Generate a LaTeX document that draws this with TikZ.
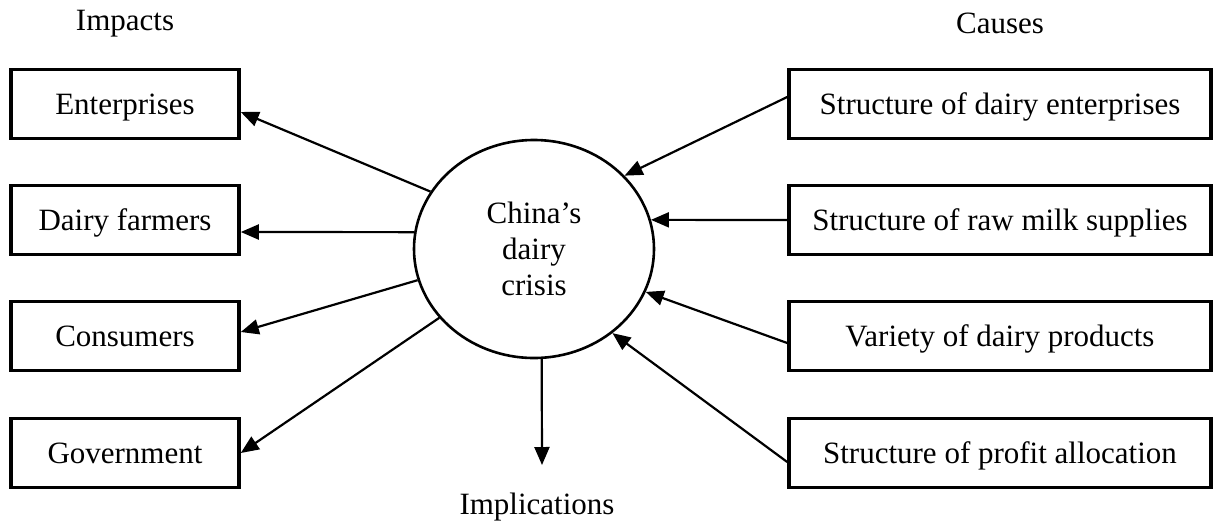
\documentclass[tikz,border=0pt]{standalone}
\usepackage{fontspec}
\setmainfont{Liberation Serif}
\usetikzlibrary{arrows.meta,shapes.geometric}

\begin{document}
\begin{tikzpicture}[x=0.5pt,y=-0.5pt,
  every node/.style={font=\fontsize{15.5}{18}\selectfont},
  box/.style={draw,line width=1.8pt,minimum width=114pt,minimum height=34.5pt,inner sep=0pt,text height=11.5pt,text depth=1pt},
  hub/.style={draw,ellipse,line width=1.3pt,minimum width=120pt,minimum height=109pt,inner sep=0pt,align=center},
  arr/.style={line width=1.1pt,-{Triangle[length=9pt,width=7.5pt]}}]

\useasboundingbox (0,0) rectangle (1216,521);

%% headings
\node (impacts) at (125,24) {Impacts};
\node (causes) at (1000,23) {Causes};
\node (impl) at (537,507) {Implications};

%% impacts
\node[box] (ent)  at (125,104) {Enterprises};
\node[box] (farm) at (125,220) {Dairy farmers};
\node[box] (cons) at (125,336) {Consumers};
\node[box] (gov)  at (125,453) {Government};

%% causes
\node[box,minimum width=211pt] (firms)  at (1000,104) {Structure of dairy enterprises};
\node[box,minimum width=211pt] (milk)   at (1000,220) {Structure of raw milk supplies};
\node[box,minimum width=211pt] (prods)  at (1000,336) {Variety of dairy products};
\node[box,minimum width=211pt] (profit) at (1000,453) {Structure of profit allocation};

%% centre
\node[hub] (crisis) at (534,249) {China’s\\dairy\\crisis};
\coordinate (down) at (542,465);

%% arrows out
\draw[arr] (crisis.151.7) -- ([yshift=-4pt]ent.east);    %% enterprises
\draw[arr] (crisis.172.5) -- ([yshift=-6pt]farm.east);   %% farmers
\draw[arr] (crisis.195)   -- ([yshift=2pt]cons.east);    %% consumers
\draw[arr] (crisis.216.5) -- (gov.east);                 %% government
\draw[arr] (crisis.274)   -- (down);                     %% implications

%% arrows in
\draw[arr] ([yshift=3.5pt]firms.west)  -- (crisis.39);   %% firms
\draw[arr] (milk.west)                 -- (crisis.14.7); %% milk
\draw[arr] ([yshift=-3.5pt]prods.west) -- (crisis.-21.6);%% products
\draw[arr] ([yshift=-4.5pt]profit.west) -- (crisis.-47.7);%% profit
\end{tikzpicture}
\end{document}
